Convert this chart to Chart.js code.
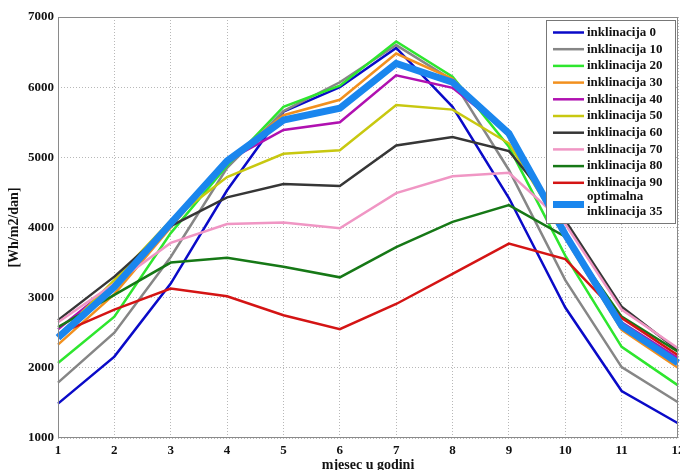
<!DOCTYPE html>
<html>
<head>
<meta charset="utf-8">
<script src="https://cdn.jsdelivr.net/npm/chart.js@4.4.1/dist/chart.umd.min.js"></script>
<style>
  html, body { margin: 0; padding: 0; background: #fff; }
  #wrap { width: 680px; height: 470px; }
</style>
</head>
<body>
<div id="wrap"><canvas id="solarChart" width="680" height="470"></canvas></div>
<script>
// mjeseci u godini
const months = ['1', '2', '3', '4', '5', '6', '7', '8', '9', '10', '11', '12'];

// dnevna insolacija [Wh/m2/dan] po inklinaciji
const incl0  = [1490, 2160, 3200, 4530, 5650, 6000, 6560, 5720, 4420, 2860, 1670, 1210];
const incl10 = [1790, 2500, 3580, 4850, 5660, 6070, 6600, 6100, 4820, 3250, 2010, 1510];
const incl20 = [2070, 2730, 3920, 4880, 5720, 6020, 6650, 6150, 5150, 3600, 2300, 1750];
const incl30 = [2330, 3050, 4000, 4950, 5600, 5820, 6480, 6120, 5300, 3850, 2540, 2000];
const incl40 = [2550, 3200, 4050, 4950, 5390, 5500, 6170, 5990, 5350, 3900, 2650, 2140];
const incl50 = [2450, 3250, 4100, 4720, 5050, 5100, 5745, 5680, 5200, 3900, 2600, 2100];
const incl60 = [2680, 3300, 4020, 4430, 4620, 4590, 5170, 5290, 5090, 4100, 2870, 2250];
const incl70 = [2650, 3200, 3780, 4050, 4070, 3990, 4490, 4730, 4780, 4050, 2830, 2280];
const incl80 = [2580, 3040, 3500, 3570, 3440, 3290, 3720, 4080, 4320, 3870, 2730, 2230];
const incl90 = [2480, 2830, 3130, 3020, 2750, 2550, 2910, 3340, 3770, 3550, 2710, 2180];
const opt35  = [2430, 3150, 4060, 4950, 5530, 5700, 6340, 6070, 5340, 3900, 2600, 2070];

const yMin = 1000;
const yMax = 7000;
const yStep = 1000;

const serif = '"Liberation Serif", "DejaVu Serif", serif';

// MATLAB-like frame + legend box drawn over the lines
const frameLegend = {
    id: 'frameLegend',
    afterDatasetsDraw(chart) {
        const ctx = chart.ctx;
        const a = chart.chartArea;
        ctx.save();
        ctx.strokeStyle = '#8a8a8a';
        ctx.lineWidth = 1;
        ctx.strokeRect(a.left + 0.5, a.top + 0.5, a.right - a.left - 1, a.bottom - a.top - 1);

        // legend
        const bx = 546, by = 20, bw = 129, bh = 203;
        ctx.fillStyle = '#fff';
        ctx.fillRect(bx, by, bw, bh);
        ctx.strokeStyle = '#777';
        ctx.strokeRect(bx + 0.5, by + 0.5, bw, bh);
        ctx.font = 'bold 13px ' + serif;
        ctx.textBaseline = 'middle';
        ctx.fillStyle = '#111';
        chart.data.datasets.forEach((ds, i) => {
            const y = by + 12.5 + i * 16.7;
            const lines = Array.isArray(ds.label) ? ds.label : [ds.label];
            const ly = lines.length > 1 ? y + 5 : y;
            ctx.strokeStyle = ds.borderColor;
            ctx.lineWidth = ds.borderWidth;
            ctx.beginPath();
            ctx.moveTo(bx + 7, ly);
            ctx.lineTo(bx + 38, ly);
            ctx.stroke();
            lines.forEach((t, k) => ctx.fillText(t, bx + 41, y - 3 + k * 15 - (lines.length > 1 ? 0 : -3)));
        });
        ctx.restore();
    }
};

const ctx = document.getElementById('solarChart').getContext('2d');

const solarChart = new Chart(ctx, {
    type: 'line',
    data: {
        labels: months,
        datasets: [{
            label: 'inklinacija 0',
            data: incl0,
            borderColor: '#0a0ac8',
            borderWidth: 2.5,
            order: 0
        }, {
            label: 'inklinacija 10',
            data: incl10,
            borderColor: '#868686',
            borderWidth: 2.5,
            order: -1
        }, {
            label: 'inklinacija 20',
            data: incl20,
            borderColor: '#2ee62e',
            borderWidth: 2.5,
            order: -2
        }, {
            label: 'inklinacija 30',
            data: incl30,
            borderColor: '#f2901e',
            borderWidth: 2.5,
            order: -3
        }, {
            label: 'inklinacija 40',
            data: incl40,
            borderColor: '#b010b0',
            borderWidth: 2.5,
            order: -4
        }, {
            label: 'inklinacija 50',
            data: incl50,
            borderColor: '#c8c810',
            borderWidth: 2.5,
            order: -5
        }, {
            label: 'inklinacija 60',
            data: incl60,
            borderColor: '#363636',
            borderWidth: 2.5,
            order: -6
        }, {
            label: 'inklinacija 70',
            data: incl70,
            borderColor: '#f096c4',
            borderWidth: 2.5,
            order: -7
        }, {
            label: 'inklinacija 80',
            data: incl80,
            borderColor: '#167816',
            borderWidth: 2.5,
            order: -8
        }, {
            label: 'inklinacija 90',
            data: incl90,
            borderColor: '#d41414',
            borderWidth: 2.5,
            order: -9
        }, {
            label: ['optimalna', 'inklinacija 35'],
            data: opt35,
            borderColor: '#1a86ee',
            borderWidth: 7,
            order: -10
        }]
    },
    options: {
        responsive: false,
        animation: false,
        devicePixelRatio: 1,
        clip: false,
        elements: {
            line: { tension: 0, fill: false, borderJoinStyle: 'miter' },
            point: { radius: 0 }
        },
        layout: { padding: { top: 17, right: 2, left: 0, bottom: 0 } },
        plugins: {
            legend: { display: false },
            tooltip: { enabled: false }
        },
        scales: {
            x: {
                offset: false,
                grid: { color: '#b8b8b8', drawTicks: false },
                border: { display: false, dash: [1, 2] },
                ticks: {
                    color: '#111',
                    padding: 5,
                    maxRotation: 0,
                    autoSkip: false,
                    font: { family: serif, size: 13, weight: 'bold' }
                },
                title: {
                    display: true,
                    text: 'mjesec u godini',
                    color: '#111',
                    padding: { top: 0, bottom: 0 },
                    font: { family: serif, size: 14, weight: 'bold', lineHeight: 0.7 }
                },
                afterFit: function(scale) {
                    scale.height = 32;
                    scale.paddingLeft = 0;
                    scale.paddingRight = 0;
                }
            },
            y: {
                min: yMin,
                max: yMax,
                grid: { color: '#b8b8b8', drawTicks: false },
                border: { display: false, dash: [1, 2] },
                ticks: {
                    stepSize: yStep,
                    color: '#111',
                    padding: 4,
                    font: { family: serif, size: 13, weight: 'bold' },
                    callback: function(value) {
                        return String(value);
                    }
                },
                title: {
                    display: true,
                    text: '[Wh/m2/dan]',
                    color: '#111',
                    padding: { top: 6, bottom: 0 },
                    font: { family: serif, size: 14, weight: 'bold' }
                },
                afterFit: function(scale) {
                    scale.width = 58;
                    scale.paddingTop = 0;
                    scale.paddingBottom = 0;
                }
            }
        }
    },
    plugins: [frameLegend]
});
</script>
</body>
</html>
